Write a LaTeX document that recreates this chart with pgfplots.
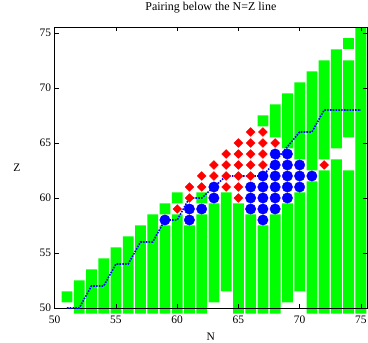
\documentclass[border=0pt]{standalone}
\usepackage{fontspec}
\setmainfont{Liberation Serif}
\usepackage{pgfplots}
\pgfplotsset{compat=1.18}
\usepackage{pgfplotstable}

\definecolor{pgreen}{RGB}{0,255,0}
\definecolor{pred}{RGB}{255,0,0}
\definecolor{pblue}{RGB}{0,0,255}

% green bars: base, then alternating green segment / gap heights
\pgfplotstableread{
N base g1 gap1 g2 gap2 g3
51 50.5 1 0 0 0 0
52 49.5 3 0 0 0 0
53 49.5 4 0 0 0 0
54 49.5 5 0 0 0 0
55 49.5 6 0 0 0 0
56 49.5 7 0 0 0 0
57 49.5 8 0 0 0 0
58 49.5 9 0 0 0 0
59 49.5 8 1 1 0 0
60 49.5 9 1 1 0 0
61 49.5 8 0 0 0 0
62 49.5 9 1 1 0 0
63 50.5 9 0 0 0 0
64 51.5 9 0 0 0 0
65 49.5 10 0 0 0 0
66 49.5 9 0 0 0 0
67 49.5 8 9 1 0 0
68 49.5 9 7 3 0 0
69 50.5 9 5 5 0 0
70 51.5 9 3 7 0 0
71 49.5 12 1 9 0 0
72 49.5 13 1 9 0 0
73 49.5 14 1 9 0 0
74 49.5 13 3 7 1 1
75 49.5 26 0 0 0 0
}\bars

\pgfplotstableread{
N Z
60 59
61 60
61 61
62 61
62 62
63 62
63 63
64 61
64 62
64 63
64 64
65 60
65 61
65 62
65 63
65 64
65 65
66 62
66 63
66 64
66 65
66 66
67 63
67 64
67 65
67 66
68 65
72 63
}\reddata

\pgfplotstableread{
N Z
59 58
61 58
61 59
62 59
63 60
63 61
66 59
66 60
66 61
67 58
67 59
67 60
67 61
67 62
68 59
68 60
68 61
68 62
68 63
68 64
69 60
69 61
69 62
69 63
69 64
70 61
70 62
70 63
71 62
}\bluedata

\pgfplotstableread{
N Z
51 50
52 50
53 52
54 52
55 54
56 54
57 56
58 56
59 58
60 58
61 60
62 60
64 62
67 62
70 66
71 66
72 68
75 68
}\linedata

\pgfplotsset{common/.style={scale only axis, width=312.3bp, height=280.5bp,
  xmin=50, xmax=75.5, ymin=50, ymax=75.5}}

\begin{document}
\begin{tikzpicture}
\useasboundingbox (-54.7bp,-35bp) rectangle (313.3bp,308bp);
\begin{axis}[common, hide axis, clip=false, ybar stacked, bar width=0.88]
\addplot[draw=none, fill=none] table[x=N, y=base]{\bars};
\addplot[draw=none, fill=pgreen] table[x=N, y=g1]{\bars};
\addplot[draw=none, fill=none] table[x=N, y=gap1]{\bars};
\addplot[draw=none, fill=pgreen] table[x=N, y=g2]{\bars};
\addplot[draw=none, fill=none] table[x=N, y=gap2]{\bars};
\addplot[draw=none, fill=pgreen] table[x=N, y=g3]{\bars};
\end{axis}
\begin{axis}[common,
  axis line style={line width=0.8bp, black},
  tick align=inside, major tick length=4bp,
  tick style={black, line width=0.5bp},
  xtick={50,55,...,75}, ytick={50,55,...,75},
  /pgf/number format/assume math mode=true,
  tick label style={font=\fontsize{11.5}{13}\selectfont},
  xticklabel style={yshift=-4bp},
  title={Pairing below the N=Z line},
  every axis title shift=0pt,
  title style={font=\fontsize{12}{14}\selectfont, at={(axis description cs:0.5,1)}, anchor=center, yshift=19.5bp},
  xlabel={N}, ylabel={Z},
  label style={font=\fontsize{11.5}{13}\selectfont},
  xlabel style={at={(axis description cs:0.5,0)}, anchor=center, yshift=-29bp},
  ylabel style={at={(axis description cs:0,0.5)}, anchor=center, rotate=-90, xshift=-37.7bp},
]
\addplot[only marks, mark=square*, mark size=3.1bp, mark options={rotate=45, fill=pred, draw=pred}] table[x=N, y=Z]{\reddata};
\addplot[only marks, mark=*, mark size=5.2bp, mark options={fill=pblue, draw=pblue}] table[x=N, y=Z]{\bluedata};
\addplot[pblue, line width=1.6bp, dash pattern=on 1.6bp off 1.2bp] table[x=N, y=Z]{\linedata};
\end{axis}
\end{tikzpicture}
\end{document}
